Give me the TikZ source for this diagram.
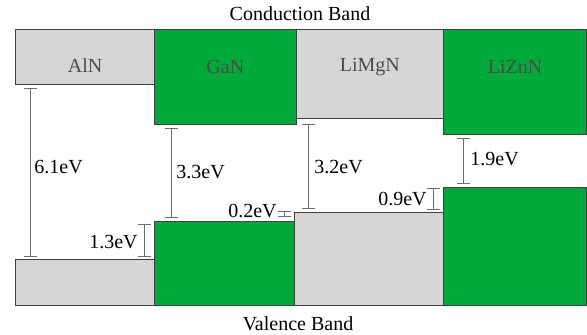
\documentclass[tikz,border=0pt]{standalone}
\usepackage{fontspec}
\setmainfont{Liberation Serif}
\usepackage{tikz}
\usetikzlibrary{arrows.meta, positioning, calc}
\definecolor{bandgreen}{HTML}{00AA3A}
\definecolor{bandgray}{HTML}{D6D6D6}
\definecolor{edgegray}{HTML}{404040}
\definecolor{gapgray}{HTML}{6E6E6E}
\tikzset{
	bandbox/.style={
			shape=rectangle,
			draw=edgegray,
			line width=0.6pt,
			inner sep=0pt
		},
	graybox/.style={
			bandbox,
			fill=bandgray
		},
	greenbox/.style={
			bandbox,
			fill=bandgreen
		},
	gapline/.style={
			draw=gapgray,
			line width=0.5pt,
			{Bar[width=6.5pt]}-{Bar[width=6.5pt]}
		}
}
\tikzset{
	boxtext/.style={font=\fontsize{10}{12}\selectfont\color{black!70}}
}
\tikzset{
	gaptext/.style={font=\fontsize{10}{12}\selectfont, inner sep=1pt}
}
\begin{document}
\begin{tikzpicture}[x=0.5pt, y=-0.5pt]
              \useasboundingbox (0,0) rectangle (587,335);

              \node[graybox, anchor=north west, minimum width=69.5pt, minimum height=27.5pt] (c1) at (15,29) {};
              \node[greenbox, anchor=north west, minimum width=70.75pt, minimum height=47.5pt] (c2) at (154,29) {};
              \node[graybox, anchor=north west, minimum width=73.75pt, minimum height=44.5pt] (c3) at (295.5,29) {};
              \node[greenbox, anchor=north west, minimum width=71.5pt, minimum height=52.5pt] (c4) at (443,29) {};

              \node[graybox, anchor=south west, minimum width=69.5pt, minimum height=23pt] (v1) at (15,306) {};
              \node[greenbox, anchor=south west, minimum width=69.75pt, minimum height=42pt] (v2) at (154,306) {};
              \node[graybox, anchor=south west, minimum width=74.75pt, minimum height=46.5pt] (v3) at (293.5,306) {};
              \node[greenbox, anchor=south west, minimum width=71.5pt, minimum height=59pt] (v4) at (443,306) {};

              \node[boxtext] (n1) at (c1.north |- 0,66) {AlN};
              \node[boxtext] (n2) at (c2.north |- 0,67) {GaN};
              \node[boxtext] (n3) at (c3.north |- 0,67) {LiMgN};
              \node[boxtext] (n4) at (c4.north |- 0,67) {LiZnN};

              \node[gaptext] (cb) at (300,14) {Conduction Band};
              \node[gaptext] (vb) at (298,324) {Valence Band};

              \coordinate (g1a) at (30,88);   \coordinate (g1b) at (30,257);
              \coordinate (g2a) at (171,128); \coordinate (g2b) at (171,218);
              \coordinate (g3a) at (308,124); \coordinate (g3b) at (308,209);
              \coordinate (g4a) at (463,138); \coordinate (g4b) at (463,184);
              \coordinate (o1a) at (144,224); \coordinate (o1b) at (144,257);
              \coordinate (o2a) at (284,211); \coordinate (o2b) at (284,217);
              \coordinate (o3a) at (433,188); \coordinate (o3b) at (433,210);

              \draw[gapline] (g1a) -- (g1b);
              \draw[gapline] (g2a) -- (g2b);
              \draw[gapline] (g3a) -- (g3b);
              \draw[gapline] (g4a) -- (g4b);
              \draw[gapline] (o1a) -- (o1b);
              \draw[gapline] (o2a) -- (o2b);
              \draw[gapline] (o3a) -- (o3b);

              \node[gaptext, anchor=west] (l1) at (32,167) {6.1eV};
              \node[gaptext, anchor=west] (l2) at (174,172) {3.3eV};
              \node[gaptext, anchor=west] (l3) at (312,167) {3.2eV};
              \node[gaptext, anchor=west] (l4) at (468,159) {1.9eV};
              \node[gaptext, anchor=east] (l5) at (140,242) {1.3eV};
              \node[gaptext, anchor=east] (l6) at (279,211) {0.2eV};
              \node[gaptext, anchor=east] (l7) at (429,199) {0.9eV};
            \end{tikzpicture}
\end{document}
